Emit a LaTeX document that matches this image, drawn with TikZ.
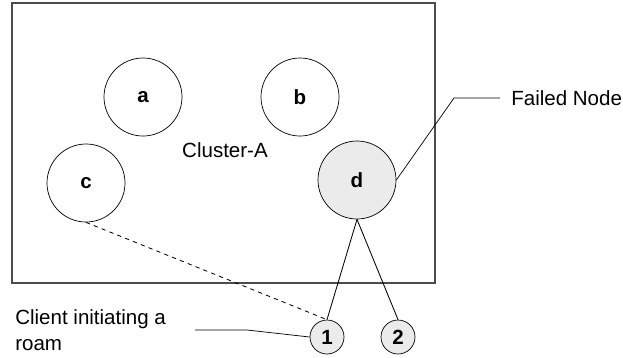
\documentclass[tikz,border=0pt]{standalone}
\usepackage{fontspec}
\setmainfont{Liberation Sans}
\begin{document}
\begin{tikzpicture}[x=0.025cm,y=-0.025cm,
  every node/.style={font=\fontsize{14.6}{18.4}\selectfont},
  member/.style={draw,circle,line width=0.5pt,minimum size=1.95cm,inner sep=0pt,
    font=\fontsize{14.6}{18.4}\selectfont\bfseries},
  client/.style={draw,circle,line width=0.5pt,fill=black!8,minimum size=0.85cm,inner sep=0pt,
    font=\fontsize{14.6}{18.4}\selectfont\bfseries}]
\useasboundingbox (0,0) rectangle (623,357);

% cluster box
\draw[black!70,line width=0.8pt] (12,3) rectangle (435,283);
\node (clname) at (225,150) {Cluster-A};

\node[member] (a) at (143,97) {a};
\node[member] (b) at (300,97) {b};
\node[member] (c) at (86,183) {c};
\node[member,fill=black!8] (d) at (357,180) {d};

\node[client] (n1) at (327,337) {1};
\node[client] (n2) at (398,337) {2};

\draw[line width=0.6pt] (d.south) -- (n1.north);
\draw[line width=0.6pt] (d.south) -- (n2.north);
\draw[line width=0.6pt,dashed] (c.south) -- (n1.north);

% labels
\node[anchor=west,inner sep=0pt] (failed) at (511,98) {Failed Node};
\coordinate (fl) at (500,98);
\draw[line width=0.5pt] (fl) -- (454,98) -- (d.east);

\node[anchor=west,align=left,inner sep=0pt] (roam) at (15,330) {Client initiating a\\roam};
\coordinate (rl) at (195,330);
\draw[line width=0.5pt] (rl) -- (247,330) -- (n1.west);
\end{tikzpicture}
\end{document}
